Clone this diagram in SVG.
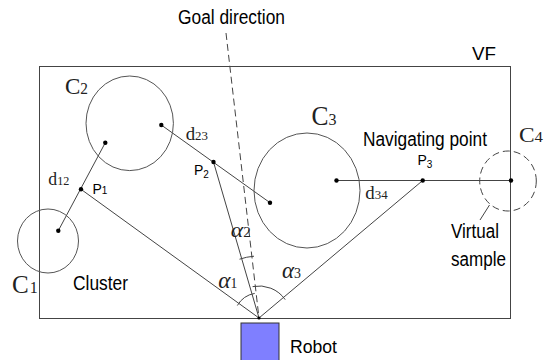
<svg xmlns="http://www.w3.org/2000/svg" width="556" height="360" viewBox="0 0 556 360">
<style>
.sans{font-family:"Liberation Sans",Arial,sans-serif;fill:#000}
.serif{font-family:"Liberation Serif","Times New Roman",serif;fill:#222}
.ital{font-family:"Liberation Serif","Times New Roman",serif;font-style:italic;fill:#222}
.ln{stroke:#444;stroke-width:1;fill:none}
.circ{stroke:#555;stroke-width:1;fill:none}
.dash{stroke:#444;stroke-width:1;fill:none;stroke-dasharray:7 4}
.dot{fill:#000}
</style>
<rect width="556" height="360" fill="#fff"/>
<g id="vf">
<rect x="39.5" y="66.5" width="471" height="252" fill="none" stroke="#444" stroke-width="1"/>
<text class="sans" x="472" y="60" font-size="18" textLength="24" lengthAdjust="spacingAndGlyphs">VF</text>
</g>
<g id="goal">
<text class="sans" x="178" y="24" font-size="20" textLength="107" lengthAdjust="spacingAndGlyphs">Goal direction</text>
</g>
<g id="connectors">
<line class="dash" x1="226" y1="33" x2="259" y2="318"/>
<line class="ln" x1="58.3" y1="230.7" x2="105.3" y2="142.7"/>
<line class="ln" x1="161.3" y1="125" x2="270" y2="202.7"/>
<line class="ln" x1="336.5" y1="180.5" x2="511" y2="180.5"/>
<line class="ln" x1="81" y1="189.3" x2="259" y2="318"/>
<line class="ln" x1="213.5" y1="162" x2="259" y2="318"/>
<line class="ln" x1="422.7" y1="180.5" x2="259" y2="318"/>
<line class="ln" x1="480" y1="220" x2="489.5" y2="205"/>
<path class="ln" d="M237.35,305.5 A25,25 0 0 1 254.7,293.4"/>
<path class="ln" d="M239.5,259.2 A62,62 0 0 1 254,256.2"/>
<path class="ln" d="M252.6,286.6 A32,32 0 0 1 285.2,299.6"/>
</g>
<g id="c1">
<ellipse class="circ" cx="48" cy="241" rx="30.5" ry="32"/>
<circle class="dot" cx="58.3" cy="230.7" r="2.2"/>
<text class="serif" x="12" y="292.7" font-size="25">C<tspan font-size="16" dx="1">1</tspan></text>
</g>
<g id="c2">
<ellipse class="circ" cx="129.7" cy="123.3" rx="43.7" ry="47.3"/>
<circle class="dot" cx="105.3" cy="142.7" r="2.2"/>
<circle class="dot" cx="161.3" cy="125" r="2.2"/>
<text class="serif" x="65" y="94" font-size="24" textLength="23" lengthAdjust="spacingAndGlyphs">C<tspan font-size="16">2</tspan></text>
</g>
<g id="c3">
<ellipse class="circ" cx="307" cy="190.5" rx="53" ry="57.5"/>
<circle class="dot" cx="270" cy="202.7" r="2.2"/>
<circle class="dot" cx="336.5" cy="180.5" r="2.2"/>
<text class="serif" x="311.5" y="125" font-size="27" textLength="25" lengthAdjust="spacingAndGlyphs">C<tspan font-size="17">3</tspan></text>
</g>
<g id="c4">
<ellipse class="dash" cx="508" cy="181" rx="28.3" ry="30" stroke="#555"/>
<circle class="dot" cx="511" cy="180.5" r="2.2"/>
<text class="serif" x="519" y="141.7" font-size="21" textLength="24" lengthAdjust="spacingAndGlyphs">C<tspan font-size="15">4</tspan></text>
</g>
<g id="p1">
<circle class="dot" cx="81" cy="189.3" r="2.2"/>
<text class="sans" x="92.5" y="194" font-size="14">P<tspan font-size="10">1</tspan></text>
</g>
<g id="p2">
<circle class="dot" cx="213.5" cy="162" r="2.2"/>
<text class="sans" x="194" y="175" font-size="14">P<tspan font-size="10" dy="3">2</tspan></text>
</g>
<g id="p3">
<circle class="dot" cx="422.7" cy="180.5" r="2.2"/>
<text class="sans" x="417.5" y="165" font-size="14">P<tspan font-size="10" dy="3">3</tspan></text>
<text class="sans" x="363" y="145.5" font-size="20" textLength="124" lengthAdjust="spacingAndGlyphs">Navigating point</text>
</g>
<g id="dlabels">
<text class="serif" x="48.3" y="185" font-size="19" textLength="21" lengthAdjust="spacingAndGlyphs">d<tspan font-size="13">12</tspan></text>
<text class="serif" x="185.7" y="140" font-size="19" textLength="22.3" lengthAdjust="spacingAndGlyphs">d<tspan font-size="13">23</tspan></text>
<text class="serif" x="365.3" y="199" font-size="19" textLength="22.4" lengthAdjust="spacingAndGlyphs">d<tspan font-size="13">34</tspan></text>
</g>
<g id="angles">
<text class="ital" x="218.3" y="288.3" font-size="24" textLength="19" lengthAdjust="spacingAndGlyphs">α<tspan font-style="normal" font-size="14">1</tspan></text>
<text class="ital" x="230.7" y="237.3" font-size="22" textLength="20" lengthAdjust="spacingAndGlyphs">α<tspan font-style="normal" font-size="14">2</tspan></text>
<text class="ital" x="282" y="278.3" font-size="23" textLength="19" lengthAdjust="spacingAndGlyphs">α<tspan font-style="normal" font-size="14">3</tspan></text>
</g>
<g id="cluster">
<text class="sans" x="73" y="290" font-size="20" textLength="55" lengthAdjust="spacingAndGlyphs">Cluster</text>
</g>
<g id="virtual">
<text class="sans" x="451" y="238" font-size="20" textLength="48" lengthAdjust="spacingAndGlyphs">Virtual</text>
<text class="sans" x="451" y="266" font-size="20" textLength="55" lengthAdjust="spacingAndGlyphs">sample</text>
</g>
<g id="robot">
<rect x="241" y="323" width="38" height="38" fill="#7f7fff" stroke="#333" stroke-width="1"/>
<circle class="dot" cx="259" cy="318" r="1.6"/>
<text class="sans" x="290" y="353" font-size="18" textLength="47" lengthAdjust="spacingAndGlyphs">Robot</text>
</g>
</svg>
